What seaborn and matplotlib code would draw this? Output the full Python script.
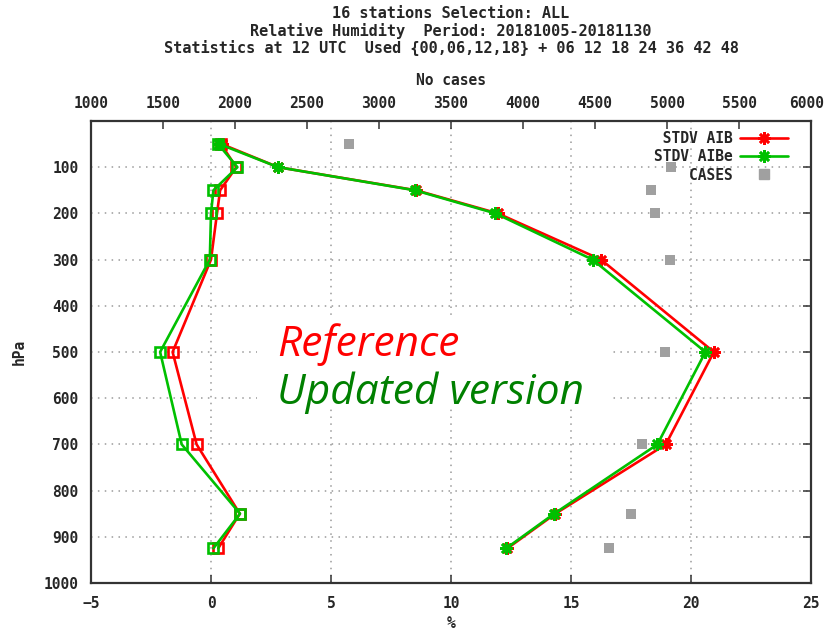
import matplotlib
matplotlib.use("Agg")
import matplotlib.pyplot as plt
import matplotlib.transforms as mtransforms
import seaborn as sns
import pandas as pd
from matplotlib.lines import Line2D
from matplotlib.patches import Rectangle

# ---------------- data ----------------
levels = [50, 100, 150, 200, 300, 500, 700, 850, 925]          # hPa
stdv_aib = [0.45, 2.8, 8.55, 11.95, 16.25, 20.95, 18.95, 14.35, 12.35]
stdv_aibe = [0.35, 2.8, 8.5, 11.85, 15.9, 20.6, 18.6, 14.3, 12.3]
bias_aib = [0.42, 1.05, 0.38, 0.25, 0.0, -1.6, -0.6, 1.2, 0.3]
bias_aibe = [0.3, 1.1, 0.1, 0.0, -0.05, -2.12, -1.22, 1.21, 0.1]
cases = [2790, 5025, 4886, 4919, 5021, 4986, 4829, 4753, 4594]

x_ticks = [-5, 0, 5, 10, 15, 20, 25]
x2_ticks = [1000, 1500, 2000, 2500, 3000, 3500, 4000, 4500, 5000, 5500, 6000]
y_ticks = [100, 200, 300, 400, 500, 600, 700, 800, 900, 1000]

title_lines = ["16 stations Selection: ALL",
               "Relative Humidity  Period: 20181005-20181130",
               "Statistics at 12 UTC  Used {00,06,12,18} + 06 12 18 24 36 42 48"]
legend_labels = [" STDV AIB", "STDV AIBe", "    CASES"]

df = pd.DataFrame({"level": levels, "stdv_aib": stdv_aib, "stdv_aibe": stdv_aibe,
                   "bias_aib": bias_aib, "bias_aibe": bias_aibe, "cases": cases})

# ---------------- style ----------------
sns.set_theme(style="white")
plt.rcParams["font.family"] = ["DejaVu Sans Mono"]
plt.rcParams["font.weight"] = "bold"
plt.rcParams["axes.labelweight"] = "bold"
plt.rcParams["font.size"] = 10.5

RED = "#ff0000"
GREEN = "#00c000"
GRAY = "#a0a0a0"
AST = (8, 2, 0)
FS = 10.5

fig = plt.figure(figsize=(8.26, 6.32), dpi=100)
ax = fig.add_axes([91 / 826, 1 - 583 / 632, 720 / 826, 462 / 632])

def prof(col, color, marker, ms):
    sns.lineplot(data=df, x=col, y="level", orient="y", sort=False, estimator=None,
                 ax=ax, color=color, lw=1.9, marker=marker, markersize=ms,
                 mfc="none", mec=color, mew=1.9, legend=False, zorder=3)

prof("bias_aib", RED, "s", 7.5)
prof("stdv_aib", RED, AST, 9)
prof("bias_aibe", GREEN, "s", 7.5)
prof("stdv_aibe", GREEN, AST, 9)

ax.set_xlim(-5, 25)
ax.set_ylim(1000, 0)
ax.set_xticks(x_ticks)
ax.set_yticks(y_ticks)
ax.set_xlabel("%", labelpad=4, fontsize=FS)
ax.set_ylabel("hPa", labelpad=12, fontsize=FS)
ax.set_axisbelow(True)
ax.grid(True, color="#9a9a9a", linestyle=(0, (1, 3.5)), linewidth=1.1)
ax.tick_params(direction="in", length=6, width=1.1, top=True, right=True,
               labelsize=FS, pad=9, color="#333333")
for s in ax.spines.values():
    s.set_color("#333333")
    s.set_linewidth(1.6)

# white box behind annotation text
ax.add_patch(Rectangle((0.2306, 0.379), 0.49, 0.19, transform=ax.transAxes,
                       facecolor="white", edgecolor="none", zorder=1))

# ---------------- cases on top axis ----------------
ax2 = ax.twiny()
sns.scatterplot(data=df, x="cases", y="level", ax=ax2, marker="s", s=55,
                color=GRAY, linewidth=0, legend=False, zorder=4)
ax2.set_xlim(1000, 6000)
ax2.set_xticks(x2_ticks)
ax2.set_xlabel("No cases", labelpad=8, fontsize=FS)
ax2.tick_params(direction="in", length=6, width=1.1, labelsize=FS, pad=7,
                color="#333333")
for s in ax2.spines.values():
    s.set_visible(False)
# keep the last top label inside the canvas
last = ax2.get_xticklabels()[-1]
last.set_transform(last.get_transform() +
                   mtransforms.ScaledTranslation(-4 / 100, 0, fig.dpi_scale_trans))

# ---------------- legend ----------------
handles = [Line2D([], [], color=RED, lw=1.9, marker=AST, ms=9, mew=1.9),
           Line2D([], [], color=GREEN, lw=1.9, marker=AST, ms=9, mew=1.9),
           Line2D([], [], color=GRAY, lw=0, marker="s", ms=7.5)]
ax2.legend(handles, legend_labels, loc="upper right", bbox_to_anchor=(0.968, 0.978),
           frameon=False, markerfirst=False, handlelength=3.3, handletextpad=0.5,
           labelspacing=0.22, borderpad=0, borderaxespad=0,
           prop={"family": "DejaVu Sans Mono", "weight": "bold", "size": FS})

# ---------------- titles & annotations ----------------
for i, t in enumerate(title_lines):
    fig.text(451 / 826, 1 - (14 + 17 * i) / 632, t, ha="center", va="center",
             fontsize=11, fontweight="bold")

fig.text(277 / 826, 1 - 356 / 632, "Reference", color=RED, fontsize=30.5,
         family="Open Sans", style="italic", fontweight="normal", va="baseline")
fig.text(277 / 826, 1 - 404 / 632, "Updated version", color="#008000", fontsize=30.5,
         family="Open Sans", style="italic", fontweight="normal", va="baseline")

fig.savefig("out.png", dpi=100, facecolor="white")
